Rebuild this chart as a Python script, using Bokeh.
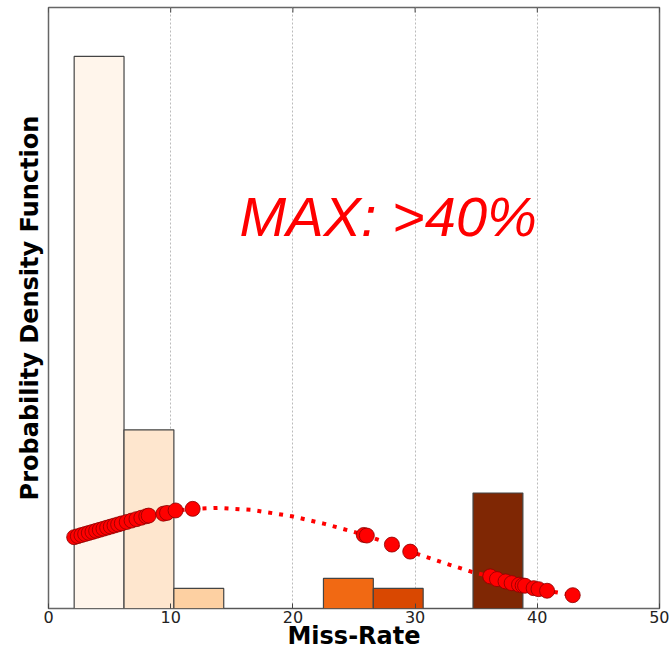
from bokeh.plotting import figure
from bokeh.models import Range1d, FixedTicker, ColumnDataSource
from bokeh.core.properties import value
from bokeh.embed import file_html
from bokeh.resources import INLINE

# Histogram bins (Miss-Rate) and density heights
bin_left = [2.10, 6.18, 10.26, 14.34, 18.42, 22.50, 26.58, 30.66, 34.74]
bin_right = [6.18, 10.26, 14.34, 18.42, 22.50, 26.58, 30.66, 34.74, 38.82]
bin_density = [0.1477, 0.0478, 0.00537, 0.0, 0.0, 0.00805, 0.00537, 0.0, 0.0309]
bin_colors = ["#fff5eb", "#fee6ce", "#fdd0a2", "#fdae6b", "#fd8d3c",
              "#f16913", "#d94801", "#a63603", "#7f2704"]

# Fitted density curve (dotted)
curve_x = [2.1, 4.0, 6.0, 8.0, 10.0, 11.8, 13.9, 16.6, 19.9, 22.6, 24.8, 26.0,
           28.1, 29.6, 32.2, 34.6, 36.15, 38.5, 40.8, 42.9]
curve_y = [0.01906, 0.02089, 0.02279, 0.02470, 0.02604, 0.02666, 0.02693, 0.02639,
           0.02470, 0.02263, 0.02067, 0.01952, 0.01710, 0.01522, 0.01235, 0.00985,
           0.00859, 0.00636, 0.00475, 0.00357]

# Sample points on the curve
pts_x = [2.1, 2.4, 2.7, 3.0, 3.3, 3.6, 3.9, 4.2, 4.5, 4.8, 5.1, 5.4, 5.7, 6.0,
         6.4, 6.8, 7.2, 7.6, 8.0, 8.2, 9.4, 9.7, 10.4, 11.8,
         25.8, 26.05, 28.1, 29.6,
         36.15, 36.7, 37.4, 37.9, 38.5, 38.8, 39.0, 39.7, 40.1, 40.8, 42.9]
pts_y = [0.01908, 0.01936, 0.01965, 0.01993, 0.02022, 0.02050, 0.02078, 0.02107,
         0.02135, 0.02164, 0.02192, 0.02221, 0.02249, 0.02278, 0.02315, 0.02353,
         0.02391, 0.02429, 0.02467, 0.02486, 0.02537, 0.02558, 0.02623, 0.02666,
         0.01968, 0.01952, 0.01710, 0.01522,
         0.00859, 0.00787, 0.00725, 0.00679, 0.00636, 0.00617, 0.00609, 0.00545,
         0.00518, 0.00475, 0.00357]

x_ticks = [0, 10, 20, 30, 40, 50]
annotation = "MAX: >40%"
x_title = "Miss-Rate"
y_title = "Probability Density Function"

Y_END = 0.1608
p = figure(width=669, height=652, output_backend="svg", toolbar_location=None,
           x_range=Range1d(0, 50), y_range=Range1d(0, Y_END),
           min_border_left=48, min_border_right=10, min_border_top=7, min_border_bottom=0)
p.background_fill_color = "white"
p.border_fill_color = "white"
p.outline_line_color = "#666666"
p.outline_line_width = 1.5

# grid
p.ygrid.visible = False
p.xgrid.ticker = FixedTicker(ticks=x_ticks)
p.xgrid.grid_line_color = "#bbbbbb"
p.xgrid.grid_line_dash = "2 2"
p.xgrid.grid_line_width = 1

# x axis
xa = p.xaxis[0]
xa.ticker = FixedTicker(ticks=x_ticks)
xa.axis_label = x_title
xa.axis_label_text_font = "DejaVu Sans"
xa.axis_label_text_font_style = "bold"
xa.axis_label_text_font_size = "24px"
xa.axis_label_text_color = "#000000"
xa.axis_label_standoff = -4
xa.major_label_text_font = "DejaVu Sans"
xa.major_label_text_font_size = "16px"
xa.major_label_text_color = "#222222"
xa.major_label_standoff = 2
xa.major_tick_in = 5
xa.major_tick_out = 0
xa.major_tick_line_color = "#444444"
xa.minor_tick_line_color = None
xa.axis_line_color = None

# y axis: label only
ya = p.yaxis[0]
ya.ticker = FixedTicker(ticks=[])
ya.axis_label = y_title
ya.axis_label_text_font = "DejaVu Sans"
ya.axis_label_text_font_style = "bold"
ya.axis_label_text_font_size = "24px"
ya.axis_label_text_color = "#000000"
ya.axis_label_standoff = 5
ya.major_label_standoff = 0
ya.major_tick_line_color = None
ya.minor_tick_line_color = None
ya.axis_line_color = None

# top inside ticks
tick_len = Y_END * 5 / 600
p.segment(x0=x_ticks, x1=x_ticks, y0=[Y_END] * len(x_ticks),
          y1=[Y_END - tick_len] * len(x_ticks), line_color="#444444", line_width=1)

# histogram bars
bars = ColumnDataSource(dict(left=bin_left, right=bin_right, top=bin_density,
                             color=bin_colors))
p.quad(left="left", right="right", top="top", bottom=0, source=bars,
       fill_color="color", line_color="#444444", line_width=1.2)

# dotted density curve
p.line(curve_x, curve_y, line_color="#ff0000", line_width=4, line_dash="4 7")

# points
p.scatter(pts_x, pts_y, size=15, fill_color="#ff0000", line_color="#8b0000",
          line_width=0.8)

# annotation
p.text(x=[27.8], y=[0.105], text=[annotation], text_font=value("Liberation Sans"),
       text_font_style="italic", text_font_size="56px", text_color="#ff0000",
       text_align="center", text_baseline="middle")

open("out.html", "w").write(file_html(p, INLINE))
